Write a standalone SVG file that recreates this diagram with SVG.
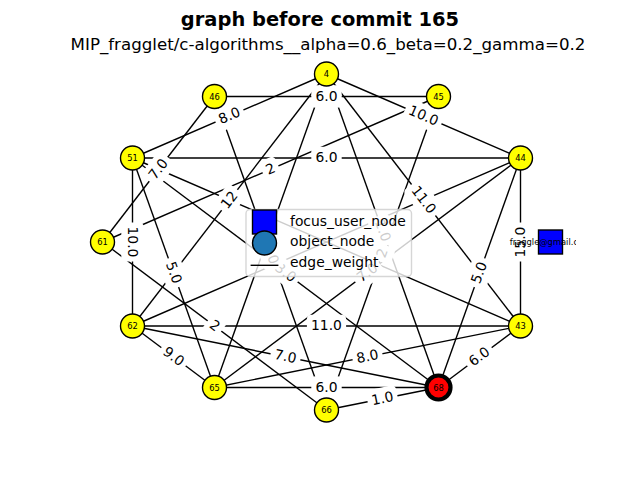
<svg xmlns="http://www.w3.org/2000/svg" width="640" height="480" viewBox="0 0 640 480">
<style>
text{font-family:"DejaVu Sans","Liberation Sans",sans-serif;fill:#000}
.e line{stroke:#000;stroke-width:1.39;fill:none}
.lb rect{fill:#fff;stroke:none}
.lb text{font-size:13.89px;text-anchor:middle}
.n circle{fill:#ffff00;stroke:#000;stroke-width:1.39}
.n text{font-size:8.33px;text-anchor:middle}
.lg text{font-size:13.89px}
</style>
<defs>
<clipPath id="ax"><rect x="80" y="57.6" width="496" height="369.6"/></clipPath>
</defs>
<rect width="640" height="480" fill="#fff"/>
<text x="320" y="26" font-size="19.44px" font-weight="bold" text-anchor="middle">graph before commit 165</text>
<text x="328" y="49.5" font-size="16.67px" text-anchor="middle">MIP_fragglet/c-algorithms__alpha=0.6_beta=0.2_gamma=0.2</text>
<g id="edges" class="e">
<line x1="214.5" y1="96.5" x2="438.5" y2="96.5"/>
<line x1="326.5" y1="74" x2="132.5" y2="158"/>
<line x1="326.5" y1="74" x2="520.5" y2="158"/>
<line x1="132.5" y1="158" x2="520.5" y2="158"/>
<line x1="214.5" y1="96.5" x2="102.5" y2="242"/>
<line x1="102.5" y1="242" x2="438.5" y2="96.5"/>
<line x1="326.5" y1="74" x2="132.5" y2="326"/>
<line x1="326.5" y1="74" x2="520.5" y2="326"/>
<line x1="132.5" y1="158" x2="132.5" y2="326"/>
<line x1="520.5" y1="158" x2="520.5" y2="326"/>
<line x1="132.5" y1="158" x2="214.5" y2="387.5"/>
<line x1="520.5" y1="158" x2="438.5" y2="387.5"/>
<line x1="132.5" y1="158" x2="438.5" y2="387.5"/>
<line x1="102.5" y1="242" x2="326.5" y2="410"/>
<line x1="132.5" y1="326" x2="520.5" y2="326"/>
<line x1="132.5" y1="326" x2="438.5" y2="387.5"/>
<line x1="132.5" y1="326" x2="214.5" y2="387.5"/>
<line x1="214.5" y1="387.5" x2="520.5" y2="326"/>
<line x1="214.5" y1="387.5" x2="438.5" y2="387.5"/>
<line x1="326.5" y1="410" x2="438.5" y2="387.5"/>
<line x1="438.5" y1="387.5" x2="520.5" y2="326"/>
<line x1="132.5" y1="326" x2="520.5" y2="158"/>
<line x1="214.5" y1="96.5" x2="326.5" y2="410"/>
<line x1="326.5" y1="74" x2="438.5" y2="387.5"/>
<line x1="326.5" y1="74" x2="214.5" y2="387.5"/>
<line x1="438.5" y1="96.5" x2="326.5" y2="410"/>
<line x1="520.5" y1="158" x2="214.5" y2="387.5"/>
<line x1="132.5" y1="158" x2="520.5" y2="326"/>
</g>
<g id="edge-labels" class="lb">
<g transform="translate(326.5,96.5)"><rect x="-15.2" y="-11.2" width="30.4" height="22.4" rx="4.2"/><text y="4.3">6.0</text></g>
<g transform="translate(229.5,116) rotate(-23.4)"><rect x="-15.2" y="-11.2" width="30.4" height="22.4" rx="4.2"/><text y="4.3">8.0</text></g>
<g transform="translate(423.5,116) rotate(23.4)"><rect x="-19.6" y="-11.2" width="39.2" height="22.4" rx="4.2"/><text y="4.3">10.0</text></g>
<g transform="translate(326.5,158)"><rect x="-15.2" y="-11.2" width="30.4" height="22.4" rx="4.2"/><text y="4.3">6.0</text></g>
<g transform="translate(158.5,169.25) rotate(-52.4)"><rect x="-15.2" y="-11.2" width="30.4" height="22.4" rx="4.2"/><text y="4.3">7.0</text></g>
<g transform="translate(270.5,169.25) rotate(-23.4)"><rect x="-8.6" y="-11.2" width="17.2" height="22.4" rx="4.2"/><text y="4.3">2</text></g>
<g transform="translate(229.5,200) rotate(-52.4)"><rect x="-13" y="-11.2" width="26" height="22.4" rx="4.2"/><text y="4.3">12</text></g>
<g transform="translate(423.5,200) rotate(52.4)"><rect x="-19.6" y="-11.2" width="39.2" height="22.4" rx="4.2"/><text y="4.3">11.0</text></g>
<g transform="translate(132.5,242) rotate(90)"><rect x="-19.6" y="-11.2" width="39.2" height="22.4" rx="4.2"/><text y="4.3">10.0</text></g>
<g transform="translate(520.5,242) rotate(-90)"><rect x="-19.6" y="-11.2" width="39.2" height="22.4" rx="4.2"/><text y="4.3">15.0</text></g>
<g transform="translate(173.5,272.75) rotate(70.3)"><rect x="-15.2" y="-11.2" width="30.4" height="22.4" rx="4.2"/><text y="4.3">5.0</text></g>
<g transform="translate(479.5,272.75) rotate(-70.3)"><rect x="-15.2" y="-11.2" width="30.4" height="22.4" rx="4.2"/><text y="4.3">5.0</text></g>
<g transform="translate(285.5,272.75) rotate(36.87)"><rect x="-15.2" y="-11.2" width="30.4" height="22.4" rx="4.2"/><text y="4.3">3.0</text></g>
<g transform="translate(214.5,326) rotate(36.87)"><rect x="-8.6" y="-11.2" width="17.2" height="22.4" rx="4.2"/><text y="4.3">2</text></g>
<g transform="translate(326.5,326)"><rect x="-19.6" y="-11.2" width="39.2" height="22.4" rx="4.2"/><text y="4.3">11.0</text></g>
<g transform="translate(285.5,356.75) rotate(11.36)"><rect x="-15.2" y="-11.2" width="30.4" height="22.4" rx="4.2"/><text y="4.3">7.0</text></g>
<g transform="translate(173.5,356.75) rotate(36.87)"><rect x="-15.2" y="-11.2" width="30.4" height="22.4" rx="4.2"/><text y="4.3">9.0</text></g>
<g transform="translate(367.5,356.75) rotate(-11.36)"><rect x="-15.2" y="-11.2" width="30.4" height="22.4" rx="4.2"/><text y="4.3">8.0</text></g>
<g transform="translate(326.5,387.5)"><rect x="-15.2" y="-11.2" width="30.4" height="22.4" rx="4.2"/><text y="4.3">6.0</text></g>
<g transform="translate(382.5,398.75) rotate(-11.36)"><rect x="-15.2" y="-11.2" width="30.4" height="22.4" rx="4.2"/><text y="4.3">1.0</text></g>
<g transform="translate(479.5,356.75) rotate(-36.87)"><rect x="-15.2" y="-11.2" width="30.4" height="22.4" rx="4.2"/><text y="4.3">6.0</text></g>
<g transform="translate(270.5,253.25) rotate(70.3)"><rect x="-15.2" y="-11.2" width="30.4" height="22.4" rx="4.2"/><text y="4.3">3.0</text></g>
<g transform="translate(382.5,230.75) rotate(70.3)"><rect x="-15.2" y="-11.2" width="30.4" height="22.4" rx="4.2"/><text y="4.3">1.0</text></g>
<g transform="translate(382.5,253.25) rotate(-70.3)"><rect x="-8.6" y="-11.2" width="17.2" height="22.4" rx="4.2"/><text y="4.3">2</text></g>
<g transform="translate(367.5,272.75) rotate(-36.87)"><rect x="-15.2" y="-11.2" width="30.4" height="22.4" rx="4.2"/><text y="4.3">7.0</text></g>
</g>
<g class="n">
<g id="node-4"><circle cx="326.5" cy="74" r="12"/><text x="326.5" y="77">4</text></g>
<g id="node-45"><circle cx="438.5" cy="96.5" r="12"/><text x="438.5" y="99.5">45</text></g>
<g id="node-44"><circle cx="520.5" cy="158" r="12"/><text x="520.5" y="161">44</text></g>
<g id="node-43"><circle cx="520.5" cy="326" r="12"/><text x="520.5" y="329">43</text></g>
<g id="node-68"><circle cx="438.5" cy="387.5" r="12" style="fill:#ff0000;stroke-width:4.17"/><text x="438.5" y="390.5">68</text></g>
<g id="node-66"><circle cx="326.5" cy="410" r="12"/><text x="326.5" y="413">66</text></g>
<g id="node-65"><circle cx="214.5" cy="387.5" r="12"/><text x="214.5" y="390.5">65</text></g>
<g id="node-62"><circle cx="132.5" cy="326" r="12"/><text x="132.5" y="329">62</text></g>
<g id="node-61"><circle cx="102.5" cy="242" r="12"/><text x="102.5" y="245">61</text></g>
<g id="node-51"><circle cx="132.5" cy="158" r="12"/><text x="132.5" y="161">51</text></g>
<g id="node-46"><circle cx="214.5" cy="96.5" r="12"/><text x="214.5" y="99.5">46</text></g>
<g id="node-fraggle"><rect x="538.5" y="230" width="24" height="24" fill="#0000ff" stroke="#000" stroke-width="1.39"/><text x="550.5" y="245" clip-path="url(#ax)">fraggle@gmail.com</text></g>
</g>
<g id="legend" class="lg">
<rect x="246" y="209.5" width="165.5" height="67" rx="4" fill="#fff" fill-opacity="0.8" stroke="#cccccc" stroke-opacity="0.8" stroke-width="1.39"/>
<rect x="252.5" y="210" width="24" height="24" fill="#0000ff" stroke="#000" stroke-width="1.39"/>
<circle cx="264.5" cy="243" r="12" fill="#1f77b4" stroke="#000" stroke-width="1.39"/>
<line x1="250.6" y1="265.3" x2="278.4" y2="265.3" stroke="#000" stroke-width="1.39"/>
<text x="290" y="225.5">focus_user_node</text>
<text x="290" y="246">object_node</text>
<text x="290" y="266.7">edge_weight</text>
</g>
</svg>
